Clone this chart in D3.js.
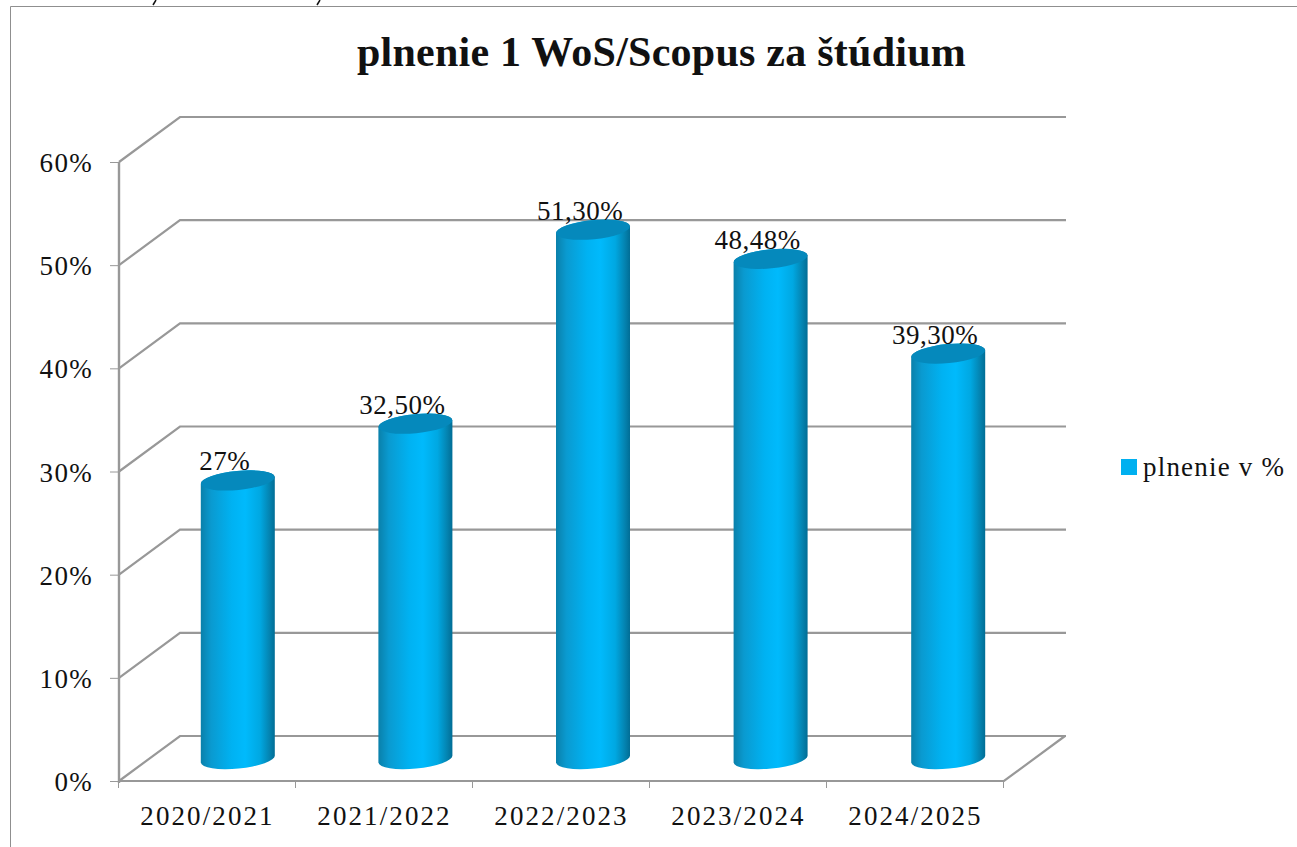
<!DOCTYPE html>
<html><head><meta charset="utf-8">
<script src="https://cdnjs.cloudflare.com/ajax/libs/d3/7.8.5/d3.min.js"></script>
<style>html,body{margin:0;padding:0;background:#fff;overflow:hidden}svg{display:block}text{font-family:"Liberation Serif",serif;fill:#111}</style>
</head><body><svg id="c" width="1297" height="847"></svg>
<script>
const categories = ["2020/2021","2021/2022","2022/2023","2023/2024","2024/2025"];
const values = [27,32.5,51.3,48.48,39.3];
const valueLabels = ["27%","32,50%","51,30%","48,48%","39,30%"];
const yTicks = [0,10,20,30,40,50,60];
const seriesName = "plnenie v %";
const titleText = "plnenie 1 WoS/Scopus za štúdium";

const svg = d3.select("#c");
const x = d3.scaleBand().domain(categories).range([119,1004]);
const xBar = d3.scaleBand().domain(categories).range([149,1037]);
const y = d3.scaleLinear().domain([0,60]).range([781,162]);
const depthX = 61, depthY = -45;
const barDy = -22;
const rx = 37, ry = 9.5, tilt = -5.5;
const grey = "#989898";

// frame and clipped fragments of the text above it
svg.append("path").attr("d","M10.5,847V6.5H1297").attr("fill","none").attr("stroke","#8f8f8f").attr("stroke-width",1);
svg.selectAll("path.frag").data([155,319]).enter().append("path").attr("class","frag")
  .attr("d",d=>`M${d-2},5L${d+1},0`).attr("stroke","#111").attr("stroke-width",1.5);

const defs = svg.append("defs");
const grad = defs.append("linearGradient").attr("id","cyl");
[[0,"#0a80aa"],[0.14,"#0a9ad0"],[0.42,"#00b2f2"],[0.6,"#00bafc"],[0.8,"#00a8e2"],[0.93,"#0483b0"],[1,"#016d95"]]
  .forEach(([o,c])=>grad.append("stop").attr("offset",o).attr("stop-color",c));

// walls: grid lines
const g = svg.append("g").attr("fill","none").attr("stroke",grey);
g.selectAll("path.grid").data(yTicks).enter().append("path").attr("class","grid")
  .attr("stroke-width",2.2)
  .attr("d",d=>`M${x.range()[0]},${y(d)}L${x.range()[0]+depthX},${y(d)+depthY}H${x.range()[1]+depthX+1}`);
// floor right edge, left axis, x axis
g.append("path").attr("stroke-width",2.2)
  .attr("d",`M${x.range()[1]+depthX},${y(0)+depthY}L${x.range()[1]},${y(0)}H${x.range()[0]}`);
g.append("path").attr("stroke-width",2.4).attr("d",`M${x.range()[0]},${y(60)}V${y(0)+2}`);
// ticks
g.selectAll("path.yt").data(yTicks).enter().append("path").attr("class","yt").attr("stroke-width",1)
  .attr("d",d=>`M${x.range()[0]-9},${y(d)+.5}H${x.range()[0]}`);
const xEdges = categories.map(c=>x(c)).concat(x.range()[1]);
g.selectAll("path.xt").data(xEdges).enter().append("path").attr("class","xt").attr("stroke-width",1)
  .attr("d",d=>`M${Math.round(d)-.5},${y(0)}V${y(0)+7}`);

// cylinders
const bars = svg.selectAll("g.bar").data(categories.map((c,i)=>({c,v:values[i],l:valueLabels[i]}))).enter().append("g").attr("class","bar");
const cx = d=>xBar(d.c)+xBar.bandwidth()/2;
const topY = d=>y(d.v)+barDy;
const baseY = y(0)+barDy;
const dyEdge = rx*Math.sin(-tilt*Math.PI/180);
bars.append("path").attr("fill","url(#cyl)").attr("d",d=>{
  const c=cx(d), t=topY(d);
  return `M${c-rx},${t+dyEdge}L${c-rx},${baseY+dyEdge}`+
    `A${rx},${ry} ${tilt} 0 0 ${c+rx},${baseY-dyEdge}L${c+rx},${t-dyEdge}`+
    `A${rx},${ry} ${tilt} 0 0 ${c-rx},${t+dyEdge}Z`;
});
bars.append("ellipse").attr("fill","#0589bc")
  .attr("cx",cx).attr("cy",topY).attr("rx",rx).attr("ry",ry)
  .attr("transform",d=>`rotate(${tilt} ${cx(d)} ${topY(d)})`);

// value labels
bars.append("text").attr("text-anchor","middle").attr("font-size",27).attr("letter-spacing",0.5)
  .attr("x",d=>cx(d)-13).attr("y",d=>topY(d)-10).text(d=>d.l);

// axis labels
svg.selectAll("text.yl").data(yTicks).enter().append("text").attr("class","yl")
  .attr("text-anchor","end").attr("font-size",27).attr("letter-spacing",1.3).attr("x",93).attr("y",d=>y(d)+10).text(d=>d+"%");
svg.selectAll("text.xl").data(categories).enter().append("text").attr("class","xl")
  .attr("text-anchor","middle").attr("font-size",27).attr("letter-spacing",2.1).attr("x",d=>x(d)+x.bandwidth()/2).attr("y",825).text(d=>d);

// title
svg.append("text").attr("text-anchor","middle").attr("font-size",42).attr("font-weight","bold").attr("letter-spacing",0.25)
  .attr("x",661.5).attr("y",66).text(titleText);

// legend
svg.append("rect").attr("x",1121).attr("y",459).attr("width",16).attr("height",16).attr("fill","#00b0f0");
svg.append("text").attr("font-size",27).attr("letter-spacing",1.2).attr("x",1143).attr("y",476).text(seriesName);
</script></body></html>
